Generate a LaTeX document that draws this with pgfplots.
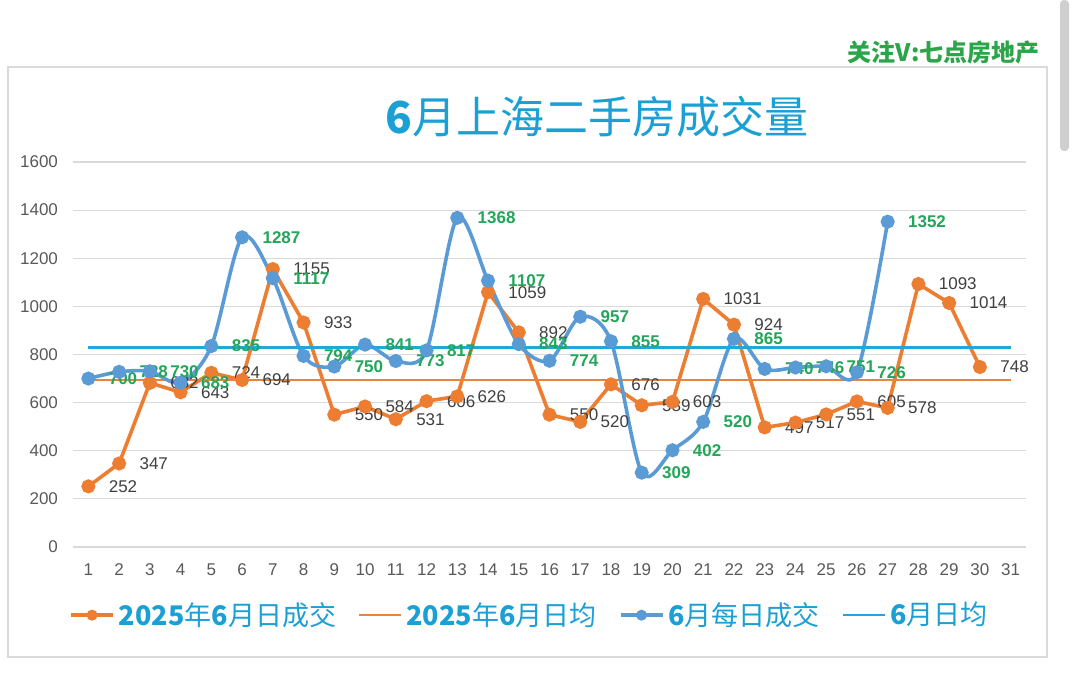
\documentclass[border=0pt]{standalone}
\usepackage{fontspec}
\setmainfont{Liberation Sans}
\newfontfamily\cjk{Noto Sans CJK SC}
\usepackage{pgfplots}
\pgfplotsset{compat=1.18}
\definecolor{ora}{HTML}{ED7D31}
\definecolor{oraavg}{HTML}{E5853F}
\definecolor{blu}{HTML}{5B9BD5}
\definecolor{cyanavg}{HTML}{22A8D8}
\definecolor{grn}{HTML}{22A65A}
\definecolor{lab}{HTML}{404040}
\definecolor{tickc}{HTML}{595959}
\definecolor{gridc}{HTML}{D9D9D9}
\definecolor{boxc}{HTML}{DADADA}
\definecolor{titc}{HTML}{1BA0D5}
\definecolor{wm}{HTML}{2CA54A}
\definecolor{scrollc}{HTML}{CFCFCF}
\begin{document}
\begin{tikzpicture}
\useasboundingbox (0,0) rectangle (540pt,337.5pt);
\fill[white] (0,0) rectangle (540pt,337.5pt);
\draw[boxc, line width=0.6pt] (4pt,9pt) rectangle (523.5pt,304pt);
\fill[scrollc, rounded corners=2pt] (530pt,262pt) rectangle (534.5pt,337.5pt);
\node[anchor=east, inner sep=0pt, font=\cjk\bfseries\fontsize{12}{14}\selectfont, text=wm] at (520pt,311.5pt) {关注V:七点房地产};
\node[inner sep=0pt, font=\cjk\fontsize{22}{26}\selectfont, text=titc] at (298.5pt,279pt) {{\bfseries 6}月上海二手房成交量};
\begin{axis}[
  scale only axis, width=476.5pt, height=192.5pt,
  at={(36.5pt,64pt)}, anchor=south west,
  xmin=0.5, xmax=31.5, ymin=0, ymax=1600,
  xtick={1,...,31}, ytick={0,200,...,1600},
  axis line style={draw=none}, major tick length=0pt,
  ymajorgrids, grid style={gridc, line width=0.6pt},
  ticklabel style={font=\fontsize{8.5}{10}\selectfont, text=tickc},
  /pgf/number format/assume math mode=true,
  /pgf/number format/1000 sep={},
  yticklabel style={xshift=-4pt},
  xticklabel style={yshift=-5pt},
  clip=false,
  legend style={at={(0.48,-0.177)}, anchor=center, draw=none, fill=none,
    font=\cjk\fontsize{13.5}{16}\selectfont, text=titc,
    /tikz/every even column/.append style={column sep=9pt}},
  legend columns=4,
  legend cell align=left,
  legend image code/.code={\draw[mark repeat=2,mark phase=2,#1] plot coordinates {(0cm,0cm) (0.37cm,0cm) (0.74cm,0cm)};},
  legend image post style={mark size=1.8pt},
]
\addplot[ora, line width=1.8pt, mark=*, mark size=2.6pt, mark options={fill=ora, draw=ora},
  nodes near coords,
  every node near coord/.append style={anchor=west, xshift=6pt, text=lab, font=\fontsize{8.5}{10}\selectfont}]
coordinates {
(1,252)(2,347)(3,682)(4,643)(5,724)(6,694)(7,1155)(8,933)(9,550)(10,584)
(11,531)(12,606)(13,626)(14,1059)(15,892)(16,550)(17,520)(18,676)(19,589)(20,603)
(21,1031)(22,924)(23,497)(24,517)(25,551)(26,605)(27,578)(28,1093)(29,1014)(30,748)
};
\addlegendentry{{\bfseries 2025}年{\bfseries 6}月日成交}
\addplot[oraavg, line width=1.1pt, no marks] coordinates {(1,693)(31,693)};
\addlegendentry{{\bfseries 2025}年{\bfseries 6}月日均}
\addplot[blu, line width=1.8pt, smooth, tension=0.5, mark=*, mark size=2.6pt, mark options={fill=blu, draw=blu},
  nodes near coords,
  every node near coord/.append style={anchor=west, xshift=6pt, text=grn, font=\bfseries\fontsize{8.5}{10}\selectfont}]
coordinates {
(1,700)(2,728)(3,730)(4,683)(5,835)(6,1287)(7,1117)(8,794)(9,750)(10,841)
(11,773)(12,817)(13,1368)(14,1107)(15,843)(16,774)(17,957)(18,855)(19,309)(20,402)
(21,520)(22,865)(23,740)(24,746)(25,751)(26,726)(27,1352)
};
\addlegendentry{{\bfseries 6}月每日成交}
\addplot[cyanavg, line width=1.1pt, no marks] coordinates {(1,829)(31,829)};
\addlegendentry{{\bfseries 6}月日均}
\end{axis}
\end{tikzpicture}
\end{document}
